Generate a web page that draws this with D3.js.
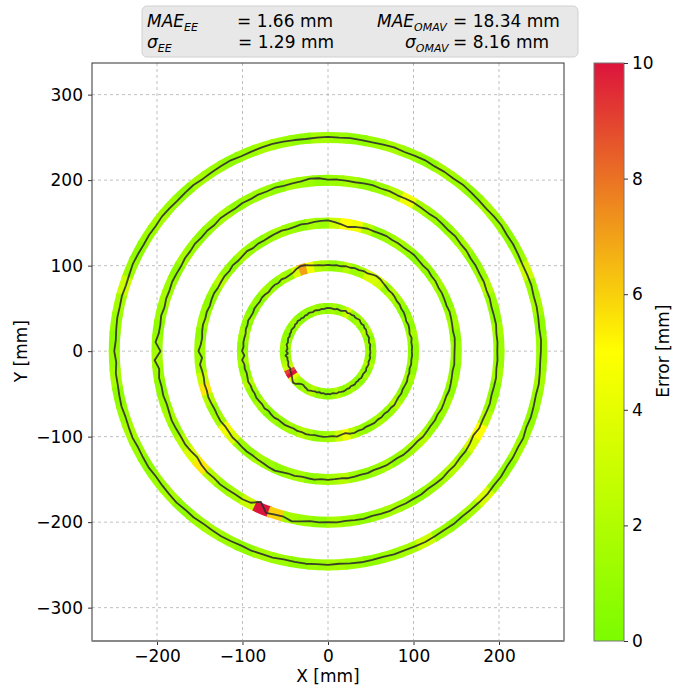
<!DOCTYPE html>
<html>
<head>
<meta charset="utf-8">
<script src="https://cdn.jsdelivr.net/npm/d3@7"></script>
<style>
  body { margin: 0; background: #fff; }
  text { font-family: 'DejaVu Sans', sans-serif; }
</style>
</head>
<body>
<div id="chart"></div>
<script>
'use strict';

// reference circle radii [mm]
var radii = [50, 100, 150, 200, 250];

// radial deviation of the measured path from each circle [mm], one value every 3 deg from +x, ccw
var devStep = 3;
var trajDev = [
  [-0.5,-1,-0.5,0,-1,-0.5,0.5,0,-0.5,0.5, 1,0.5,1.5,0.5,1,2,1,0.5,1.5,0.5, 1,0,1.5,0.5,-0.5,0,0.5,-0.5,0,0.5,
   0.5,0,-0.5,0,-1,-0.5,0,-1,-0.5,0, -1,-0.5,-1.5,-0.5,-1,0,-1,-0.5,-1.5,-1, -0.5,-1.5,-1,-2,-1,-1.5,-2,-1,-2,-2.5,
   -1,-3,0,-2,-1.5,-2,-1,-0.5,-1.5,-0.5, 0,1,2,3.5,5,4,1,-0.5,-1,0, 0.5,1.5,0.5,0,-0.5,0,-1,0,-0.5,0.5,
   0,0.5,-0.5,0,0.5,-0.5,0,0.5,0,-0.5, 0,-1,-0.5,0,-1,-0.5,-1,0,-0.5,-1, -0.5,0,-1,-0.5,0,-1,-0.5,0,-1,-0.5],
  [-2,-1.5,-2,-1,-2.5,-1.5,-1,-2,-1,-0.5, -1,0,-0.5,0.5,1,0.5,1.5,2.5,4,4.5, 3.5,2,2.5,1.5,2,1,1.5,0.5,1,0.5,
   1,0.5,1,1.5,2.5,4,4.5,3,0.5,-0.5, -1,0,-1.5,-0.5,-1,-2,-1,-0.5,-1.5,-1, -0.5,-1.5,-1,0,-1,-0.5,-1.5,-1,-0.5,-1,
   0.5,-2,1,-1,-0.5,-1.5,-1,0,-1,-0.5, -1,0,-0.5,-1,0,-1.5,-0.5,0,-1,-0.5, 0,-0.5,-1,0,-0.5,0.5,0,-0.5,0,0.5,
   0,-0.5,0.5,-1,-2,0,0.5,-0.5,0,-1, -0.5,0,-1,-0.5,-1.5,-0.5,-1,0,-1,-1.5, -1,-2,-1.5,-1,-2,-1.5,-2.5,-1.5,-2,-1.5],
  [-2,-1.5,-1,-2,-1.5,-1,-0.5,-1.5,-1,-0.5, -1,0,-0.5,0.5,-0.5,0,1,0.5,0,0.5, 0,1,0.5,0,0.5,-0.5,-1.5,-3,-1,1,
   3,2.5,2,1,1.5,0.5,0,1,0.5,0, -0.5,0,-1,0.5,-0.5,-1,0,-1.5,-0.5,-1, -1.5,-0.5,-1,-2,-1,-1.5,-0.5,-1,-2,-1,
   1.5,-2.5,0.5,-1,-1.5,-0.5,-1,0,-0.5,-1, -0.5,0,-1,-0.5,0.5,0,0.5,1,0.5,1, 1.5,2.5,3,1.5,0.5,1,0,0.5,1,0,
   0.5,0,-0.5,0.5,0,-0.5,0,-1,-0.5,0, -0.5,-1,0,-0.5,-1,-1.5,-0.5,-1,-1.5,-1, -2,-1,-1.5,-2,-1,-1.5,-2,-2.5,-1.5,-2],
  [-2,-1.5,-2,-1,-1.5,-2,-1,-1.5,-0.5,-1, -0.5,-1,0,-0.5,0.5,-0.5,0,0.5,-0.5,0, 0.5,0,-0.5,0.5,0,1,0.5,0,0.5,1,
   0.5,2.5,3,1,0.5,0,1,0,0.5,-0.5, 0,-1,-0.5,0,-1.5,-0.5,-1,0,-1,-0.5, -1.5,-1,-0.5,-1.5,-1,-2,-0.5,-1.5,-1,2,
   -4,3,-1.5,0,-1,-0.5,-1.5,-1,0,-0.5, -1,-0.5,-1.5,-3,-1,0,-0.5,0.5,0,-0.5, 0,-1,-7,2.5,1,0.5,3.5,1.5,0,0.5,
   0,0.5,-0.5,0,0.5,-0.5,0,0.5,-0.5,0, -0.5,0,-1,-0.5,0,-1,-0.5,-1.5,-1,-2, -3.5,-1.5,-2,-1.5,-1,-2,-1.5,-1,-2,-1.5],
  [-1,-0.5,-1.5,-1,-0.5,-1,0,-0.5,-1,-0.5, 0,-0.5,0.5,0,-1,-0.5,0,0.5,-0.5,0, -0.5,0.5,0,-0.5,0.5,0,-0.5,0,0.5,0,
   0.5,0,-0.5,0,0.5,1,0.5,0,-0.5,0.5, 0,-0.5,-1,0,-0.5,-1,-0.5,0,-1,-0.5, -1,-0.5,0,-1,-1.5,-0.5,-1,-0.5,-1,-1.5,
   0,-2,-0.5,-1,-0.5,0,-1,-0.5,0,-1, -0.5,0,-1,-0.5,0,0.5,-0.5,0,-1,-0.5, 0,-0.5,-1,0,-0.5,0,-1,-0.5,0,-0.5,
   0,-1,-0.5,0,-0.5,-1,0,-0.5,0,0.5, 0,-0.5,0,-1,-0.5,0,0.5,-0.5,0,-1, -0.5,-1,0,-1.5,-0.5,-1,-1.5,-0.5,-1,-1.5]
];

// tracking error along each circle [mm], one value every 5 deg from +x, ccw
var errStep = 5;
var errVals = [
  [1.2,0.8,1.6,0.5,1.2,2.2,1.2,0.8,1.6,1.2,0.8,1.2, 3.5,2.2,1.2,0.8,1.6,1.2,0.5,1.2,0.8,1.6,1.2,0.8,
   1.2,0.5,0.8,1.2,1.6,0.8,1.2,0.5,1.2,0.8,1.6,1.2, 0.8,1.2,1.6,2.2,3,9,10,4,2.2,1.2,0.8,1.6,
   1.2,2.2,1.6,0.8,1.2,0.5,0.8,1.2,2.2,1.2,0.8,1.2, 1.6,0.8,1.2,0.5,1.2,1.6,0.8,1.2,2.2,1.2,0.8,1.2],
  [0.8,1.2,1.6,0.8,1.2,0.5,1.2,1.6,2.2,1.2,3,3.5, 3.5,1.6,1.2,2.2,1.2,0.8,1.6,2.2,4.5,7,3.5,1.2,
   1.6,0.8,1.2,1.6,0.8,1.2,0.5,1.2,0.8,1.6,1.2,0.8, 1.2,1.6,0.8,1.2,2.2,1.2,0.8,1.6,1.2,0.5,1.2,0.8,
   1.6,1.2,2.2,1.6,0.8,1.2,1.6,3,4.5,2.2,1.2,0.8, 1.2,1.6,0.8,1.2,2.2,1.2,0.8,1.2,1.6,0.8,1.2,0.8],
  [1.2,0.8,1.6,1.2,0.8,1.2,1.6,0.8,1.2,0.5,1.2,1.6, 1.2,0.8,2.2,4.5,5,3,1.2,1.6,0.8,1.2,1.6,1.2,
   0.8,1.2,1.6,0.8,1.2,2.2,1.2,0.8,1.2,1.6,0.8,1.2, 1.2,1.6,3,5.5,2.2,1.2,1.6,4.5,3.5,1.2,0.8,1.6,
   1.2,0.8,1.2,1.6,0.8,1.2,1.6,2.2,1.2,0.8,1.2,1.6, 0.8,1.2,1.6,2.2,1.2,0.8,1.2,1.6,0.8,1.2,0.8,1.2],
  [1.2,1.6,0.8,1.2,2.2,1.2,0.8,1.6,1.2,0.8,1.2,1.6, 4.5,2.2,1.2,0.8,1.6,1.2,0.8,1.2,1.6,0.8,1.2,1.2,
   0.8,1.6,1.2,0.8,1.2,1.6,0.8,1.2,1.6,1.2,0.8,1.2, 1.6,1.2,0.8,1.2,1.6,1.2,2.2,3.5,5.5,2.2,1.2,1.6,
   3,10,6,1.6,1.2,0.8,1.6,1.2,0.8,1.2,1.6,1.2, 0.8,1.2,1.6,2.2,1.6,3.5,5,2.2,1.2,0.8,1.6,1.2],
  [1.2,0.8,1.6,1.2,3,1.2,0.8,1.2,1.6,0.8,1.2,1.6, 0.8,1.2,1.6,1.2,0.8,1.2,1.6,0.8,1.2,1.6,1.2,0.8,
   1.2,1.6,0.8,1.2,1.6,1.2,0.8,1.2,3,1.6,1.2,0.8, 1.2,1.6,0.8,1.2,1.6,1.2,0.8,1.2,1.6,0.8,1.2,1.6,
   1.2,0.8,1.6,1.2,0.8,1.2,1.6,1.2,0.8,1.2,1.6,3, 1.2,0.8,1.6,3.5,1.2,0.8,1.6,1.2,0.8,1.2,1.6,1.2]
];

var xTicks = [-200, -100, 0, 100, 200];
var yTicks = [-300, -200, -100, 0, 100, 200, 300];
var cbTicks = [0, 2, 4, 6, 8, 10];

var width = 684, height = 686;
var plot = {left: 92, right: 564, top: 63, bottom: 641};

var svg = d3.select('#chart').append('svg')
  .attr('width', width)
  .attr('height', height);

var x = d3.scaleLinear().domain([-276, 276]).range([plot.left, plot.right]);
var y = d3.scaleLinear().domain([-339, 337]).range([plot.bottom, plot.top]);

var color = d3.scaleLinear()
  .domain([0, 5, 10])
  .range(['#7cfc00', '#ffff00', '#dc143c'])
  .clamp(true);

// grid
var grid = svg.append('g');
grid.selectAll('.gx').data(xTicks).enter().append('line')
  .attr('x1', function (d) { return x(d); })
  .attr('x2', function (d) { return x(d); })
  .attr('y1', plot.top).attr('y2', plot.bottom);
grid.selectAll('.gy').data(yTicks).enter().append('line')
  .attr('y1', function (d) { return y(d); })
  .attr('y2', function (d) { return y(d); })
  .attr('x1', plot.left).attr('x2', plot.right);
grid.selectAll('line')
  .style('stroke', '#b0b0b0')
  .style('stroke-width', 0.8)
  .style('stroke-dasharray', '3,3');

// coloured error bands on the reference circles
var toRad = Math.PI / 180;
var bands = svg.append('g')
  .attr('transform', 'translate(' + x(0) + ',' + y(0) + ')');

radii.forEach(function (r, k) {
  var rPx = x(r) - x(0);
  var arc = d3.arc().innerRadius(rPx - 5.5).outerRadius(rPx + 5.5);
  bands.selectAll('.b' + k).data(errVals[k]).enter().append('path')
    .attr('d', function (d, i) {
      var a0 = i * errStep - 0.4, a1 = (i + 1) * errStep + 0.4;
      return arc({startAngle: (90 - a1) * toRad, endAngle: (90 - a0) * toRad});
    })
    .style('fill', function (d) { return color(d); });
});

// measured end-effector path
var line = d3.line()
  .x(function (d) { return x(d.r * Math.cos(d.a)); })
  .y(function (d) { return y(d.r * Math.sin(d.a)); });

radii.forEach(function (r, k) {
  var pts = trajDev[k].map(function (dv, i) {
    return {r: r + dv, a: i * devStep * toRad};
  });
  pts.push(pts[0]);
  svg.append('path')
    .attr('d', line(pts))
    .style('fill', 'none')
    .style('stroke', '#2e2e2e')
    .style('stroke-opacity', 0.9)
    .style('stroke-width', 1.8)
    .style('stroke-linejoin', 'round');
});

// axes
var xAxis = svg.append('g')
  .attr('transform', 'translate(0,' + plot.bottom + ')')
  .call(d3.axisBottom(x).tickValues(xTicks).tickSize(4).tickPadding(5));
var yAxis = svg.append('g')
  .attr('transform', 'translate(' + plot.left + ',0)')
  .call(d3.axisLeft(y).tickValues(yTicks).tickSize(4).tickPadding(5));
[xAxis, yAxis].forEach(function (g) {
  g.select('.domain').remove();
  g.selectAll('text').style('font-size', '17px').style('fill', '#000');
  g.selectAll('line').style('stroke', '#333');
});

// spines
svg.append('rect')
  .attr('x', plot.left).attr('y', plot.top)
  .attr('width', plot.right - plot.left).attr('height', plot.bottom - plot.top)
  .style('fill', 'none').style('stroke', '#333').style('stroke-width', 1);
svg.append('line')
  .attr('x1', plot.left).attr('x2', plot.right)
  .attr('y1', plot.bottom).attr('y2', plot.bottom)
  .style('stroke', '#888').style('stroke-width', 2);

svg.append('text')
  .attr('x', x(0)).attr('y', 682)
  .attr('text-anchor', 'middle')
  .style('font-size', '17px')
  .text('X [mm]');
svg.append('text')
  .attr('transform', 'translate(27,' + y(0) + ') rotate(-90)')
  .attr('text-anchor', 'middle')
  .style('font-size', '17px')
  .text('Y [mm]');

// colorbar
var cb = {x: 594, w: 30};
var cbScale = d3.scaleLinear().domain([0, 10]).range([plot.bottom, plot.top]);
var grad = svg.append('defs').append('linearGradient')
  .attr('id', 'cbgrad')
  .attr('x1', 0).attr('y1', 1).attr('x2', 0).attr('y2', 0);
grad.selectAll('stop').data(d3.range(0, 10.01, 0.5)).enter().append('stop')
  .attr('offset', function (d) { return d / 10; })
  .attr('stop-color', function (d) { return color(d); });
svg.append('rect')
  .attr('x', cb.x).attr('y', plot.top)
  .attr('width', cb.w).attr('height', plot.bottom - plot.top)
  .style('fill', 'url(#cbgrad)')
  .style('stroke', '#777').style('stroke-width', 1);
var cbAxis = svg.append('g')
  .attr('transform', 'translate(' + (cb.x + cb.w) + ',0)')
  .call(d3.axisRight(cbScale).tickValues(cbTicks).tickSize(4).tickPadding(4));
cbAxis.select('.domain').remove();
cbAxis.selectAll('text').style('font-size', '17px').style('fill', '#000');
cbAxis.selectAll('line').style('stroke', '#333');
svg.append('text')
  .attr('transform', 'translate(669,' + y(0) + ') rotate(-90)')
  .attr('text-anchor', 'middle')
  .style('font-size', '17px')
  .text('Error [mm]');

// stats box
svg.append('rect')
  .attr('x', 142).attr('y', 6).attr('width', 436).attr('height', 51)
  .attr('rx', 5)
  .style('fill', '#e8e8e8').style('stroke', '#d0d0d0');

function label(xp, yp, main, sub) {
  var t = svg.append('text')
    .attr('x', xp).attr('y', yp)
    .style('font-size', '17px')
    .style('font-style', 'italic');
  t.append('tspan').text(main);
  t.append('tspan').attr('dy', 4).style('font-size', '11px').text(sub);
  return t;
}
function plain(xp, yp, s) {
  svg.append('text')
    .attr('x', xp).attr('y', yp)
    .style('font-size', '17px')
    .text(s);
}
label(147, 27, 'MAE', 'EE');
plain(237, 27, '= 1.66 mm');
label(377, 27, 'MAE', 'OMAV');
plain(453, 27, '= 18.34 mm');
label(147, 48, '\u03c3', 'EE');
plain(238, 48, '= 1.29 mm');
label(405, 48, '\u03c3', 'OMAV');
plain(453, 48, '= 8.16 mm');
</script>
</body>
</html>
